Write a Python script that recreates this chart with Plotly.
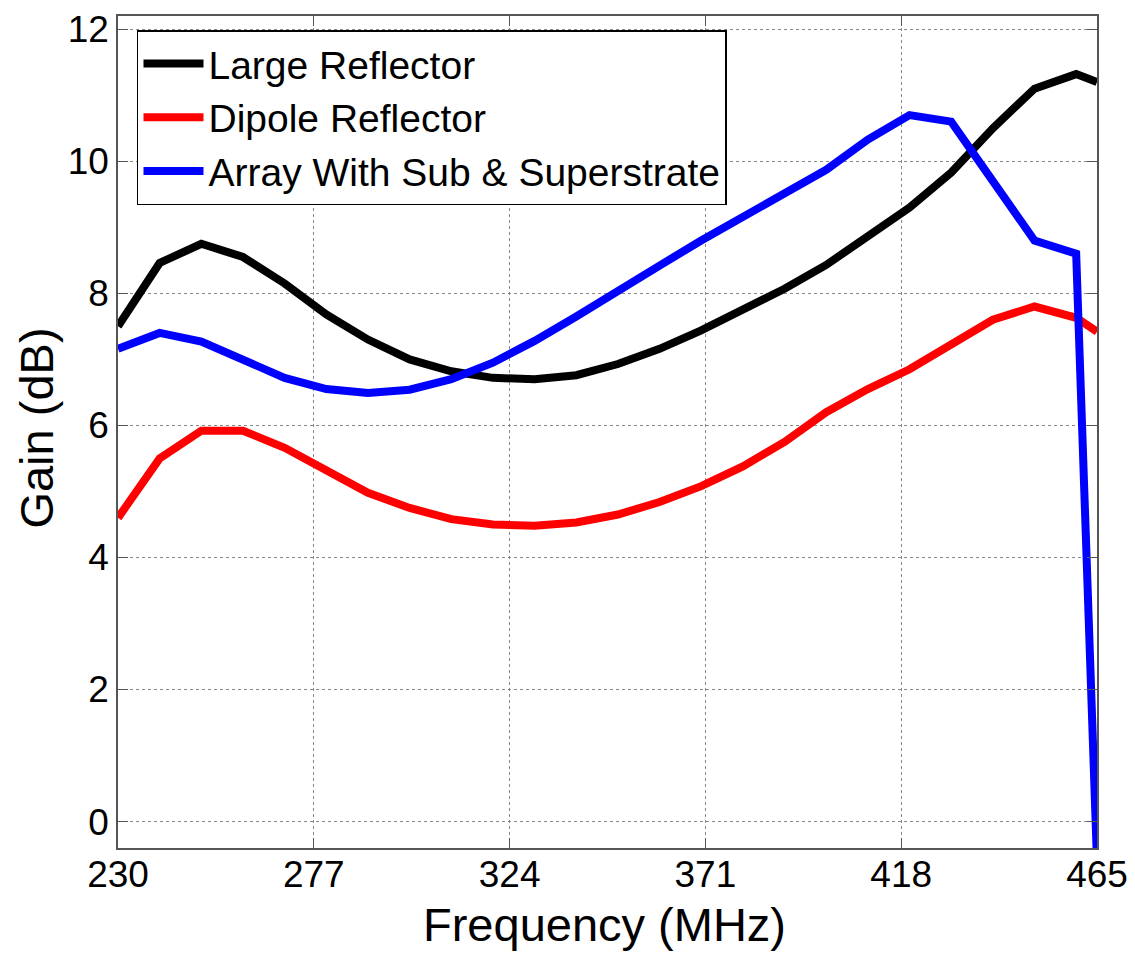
import plotly.graph_objects as go

# frequency points (MHz)
freq = [230, 240, 250, 260, 270, 280, 290, 300, 310, 320, 330, 340, 350,
        360, 370, 380, 390, 400, 410, 420, 430, 440, 450, 460, 465]

large_reflector = [7.5, 8.46, 8.75, 8.55, 8.15, 7.68, 7.3, 7.0, 6.82, 6.72, 6.7, 6.76, 6.93,
                   7.16, 7.44, 7.75, 8.07, 8.43, 8.85, 9.3, 9.83, 10.5, 11.1, 11.32, 11.2]
dipole_reflector = [4.6, 5.5, 5.92, 5.92, 5.66, 5.31, 4.98, 4.75, 4.58, 4.5, 4.48, 4.53, 4.65,
                    4.84, 5.08, 5.38, 5.75, 6.2, 6.55, 6.85, 7.22, 7.6, 7.8, 7.63, 7.42]
array_sub_super = [7.16, 7.4, 7.27, 6.98, 6.72, 6.55, 6.49, 6.54, 6.7, 6.95, 7.28, 7.65, 8.02,
                   8.42, 8.8, 9.16, 9.5, 9.87, 10.33, 10.7, 10.6, 9.72, 8.8, 8.6, -0.6]

x_ticks = [230, 277, 324, 371, 418, 465]
y_ticks = [0, 2, 4, 6, 8, 10, 12]

FONT = "Liberation Sans, Arial, sans-serif"

fig = go.Figure()
fig.add_trace(go.Scatter(x=freq, y=large_reflector, mode="lines", name="Large Reflector",
                         line=dict(color="black", width=8)))
fig.add_trace(go.Scatter(x=freq, y=dipole_reflector, mode="lines", name="Dipole Reflector",
                         line=dict(color="red", width=8)))
fig.add_trace(go.Scatter(x=freq, y=array_sub_super, mode="lines", name="Array With Sub & Superstrate",
                         line=dict(color="blue", width=8)))

axis_common = dict(
    showline=True, linecolor="#555", linewidth=1.5, mirror="ticks",
    ticks="inside", ticklen=10, tickcolor="#555",
    showgrid=True, gridcolor="#888", griddash="dot", gridwidth=1,
    zeroline=False, automargin=False, ticklabeloverflow="allow",
    tickfont=dict(size=37, color="black", family=FONT),
)

fig.update_xaxes(range=[230, 465], tickvals=x_ticks, ticklabelstandoff=-7, **axis_common)
fig.update_yaxes(range=[-0.4, 12.2], tickvals=y_ticks, **axis_common)

# axis titles placed as annotations (MATLAB-like positions)
fig.add_annotation(text="Frequency (MHz)", xref="paper", yref="paper", x=0.497, y=-0.092,
                   xanchor="center", yanchor="middle", showarrow=False,
                   font=dict(size=47, color="black", family=FONT))
fig.add_annotation(text="Gain (dB)", xref="paper", yref="paper", x=-0.083, y=0.505,
                   xanchor="center", yanchor="middle", textangle=-90, showarrow=False,
                   font=dict(size=47, color="black", family=FONT))

fig.update_layout(
    width=1127, height=946,
    margin=dict(l=110, r=38, t=8, b=106),
    plot_bgcolor="white", paper_bgcolor="white",
    font=dict(family=FONT, color="black"),
    legend=dict(x=0.0194, y=0.983, xanchor="left", yanchor="top",
                bgcolor="white", bordercolor="black", borderwidth=1.5,
                font=dict(size=39, color="black", family=FONT),
                tracegroupgap=0, itemwidth=60),
    showlegend=True,
)

fig.write_html("out.html")
